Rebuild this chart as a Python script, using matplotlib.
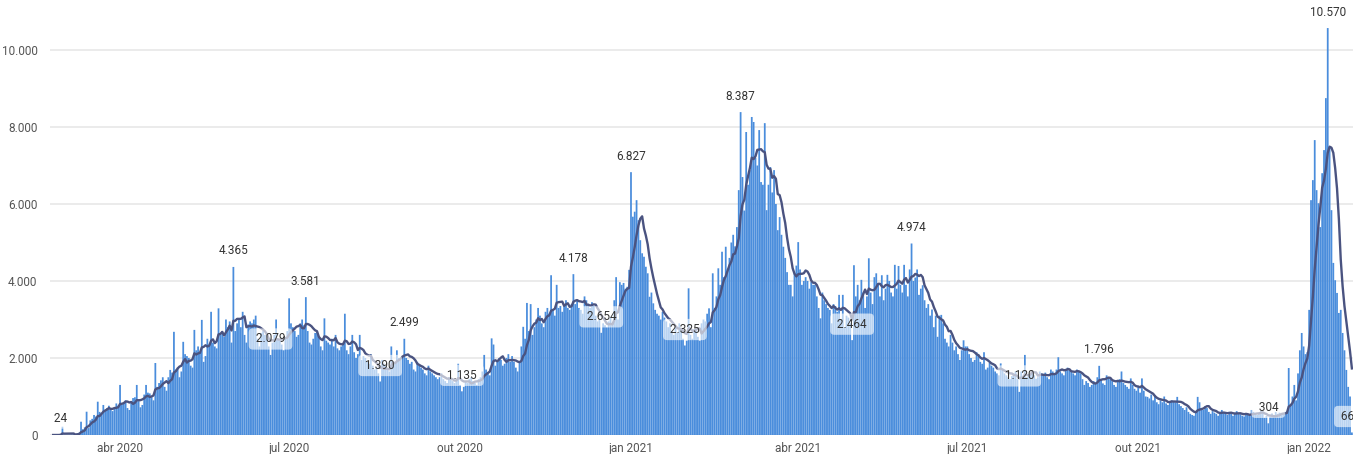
import matplotlib
matplotlib.use("Agg")
import matplotlib.pyplot as plt
import pandas as pd

plt.rcParams["font.family"] = ["Roboto", "DejaVu Sans"]

# ---------- valores diários, por mês ----------
fev20 = [0, 0, 1, 0, 24]
mar20 = [215, 2, 5, 8, 10, 14, 18, 25, 40, 60, 345, 150, 200, 605, 180, 380,
         420, 520, 480, 865, 600, 560, 780, 650, 700, 760, 690, 620, 700, 820, 760]
abr20 = [1300, 780, 820, 900, 700, 650, 850, 960, 980, 1300, 880, 720, 780, 1050,
         1300, 1100, 1080, 980, 900, 1870, 1250, 1350, 1420, 1500, 1250, 1150,
         1500, 1690, 1620, 2680]
mai20 = [1700, 1750, 1500, 1650, 2420, 2100, 2050, 2000, 1800, 1750, 2730, 2200,
         2300, 2150, 2990, 1900, 2050, 2500, 2350, 3200, 2400, 2300, 2250, 3290,
         2600, 2700, 2550, 3000, 2800, 2950, 2400]
jun20 = [4365, 2700, 2900, 3000, 2800, 3200, 2600, 2400, 2870, 2950, 2900, 3000,
         3100, 2500, 2300, 2650, 2700, 2600, 2500, 2300, 2079, 2400, 2600, 3000,
         2500, 2450, 2350, 2200, 2500, 2700]
jul20 = [3550, 2900, 2800, 2700, 2550, 2600, 2900, 3000, 2850, 3581, 2700, 2400,
         2350, 2500, 2650, 2700, 2550, 2300, 2200, 3030, 2450, 2400, 2350, 2500,
         2300, 2600, 2250, 2200, 2300, 2350, 3150]
ago20 = [2200, 2100, 2300, 2600, 2150, 2000, 2100, 2600, 1950, 2050, 2000, 1900,
         1850, 2100, 1800, 1700, 1750, 1600, 1390, 1950, 1850, 1800, 1700, 1650,
         2300, 1900, 1850, 2200, 2000, 1950, 2050]
set20 = [2499, 2000, 1950, 1850, 1900, 1700, 1650, 1900, 1800, 1750, 1700, 1600,
         1550, 1800, 1650, 1600, 1550, 1500, 1450, 1500, 1600, 1450, 1400, 1350,
         1500, 1450, 1400, 1350, 1450, 1850]
out20 = [1300, 1135, 1250, 1400, 1350, 1450, 1500, 1400, 1350, 1300, 1450, 1500,
         1650, 2080, 1700, 1600, 1550, 2510, 2350, 1800, 1900, 2000, 1950, 1800,
         1850, 2000, 2100, 1900, 2050, 1900, 1750]
nov20 = [1650, 1900, 2300, 2810, 2500, 3430, 2700, 3400, 2600, 2800, 3000, 3300,
         3100, 2900, 2800, 3200, 3300, 3150, 4150, 3250, 3100, 3900, 3300, 3350,
         3200, 3400, 3500, 3300, 3250, 3400]
dez20 = [4178, 3400, 3500, 3300, 3250, 3150, 3600, 3500, 3400, 3300, 3450, 3350,
         3100, 2950, 3000, 2654, 2900, 2850, 2800, 2950, 3050, 2900, 3500, 4100,
         3000, 3970, 3900, 3950, 3800, 3850, 4290]
jan21 = [6827, 5670, 5800, 6100, 5580, 5060, 4720, 4630, 4370, 4200, 3590, 3700,
         3420, 3250, 3150, 3100, 3000, 3200, 3050, 2950, 2800, 2900, 2700, 2600,
         2800, 2650, 2900, 2750, 2500, 2325, 2450]
fev21 = [3810, 2600, 2500, 2750, 2700, 2550, 2450, 2900, 3000, 2950, 3150, 3290,
         2800, 4200, 3300, 3600, 4330, 3900, 4760, 4100, 4890, 4300, 4600, 5000,
         5200, 4900, 5400, 6360]
mar21 = [8387, 6700, 5830, 7870, 6500, 6880, 8260, 8130, 7200, 7000, 7920, 6570,
         6500, 8100, 5840, 6500, 6960, 6300, 6880, 6000, 5320, 5660, 5200, 4890,
         4600, 4230, 3900, 3900, 3600, 4200, 4400]
abr21 = [5010, 4300, 3900, 4000, 4100, 4000, 3800, 3980, 3900, 3900, 3600, 3300,
         3030, 3700, 3500, 3400, 3300, 3250, 2900, 3400, 3350, 3200, 3640, 3000,
         3640, 2800, 3100, 3050, 2900, 2464]
mai21 = [4410, 3600, 3900, 3500, 4030, 3700, 3300, 3600, 4590, 3700, 3400, 4100,
         4200, 3900, 3600, 4150, 3500, 3800, 4160, 4000, 3700, 3600, 4420, 3800,
         4390, 3900, 3700, 4420, 3900, 3600, 4300]
jun21 = [4974, 4000, 4090, 4300, 3640, 3800, 3890, 3500, 3300, 3400, 3100, 3260,
         2800, 3100, 2550, 3100, 3120, 2900, 2500, 2400, 2300, 2600, 2400, 2200,
         2300, 2100, 1950, 2200, 2460, 2300]
jul21 = [2300, 2100, 2000, 1900, 1950, 2150, 2100, 1900, 1850, 2150, 1700, 1750,
         1870, 1800, 1750, 1650, 1600, 1550, 1860, 1700, 1600, 1550, 1500, 1450,
         1530, 1600, 1650, 1450, 1120, 1650, 1500]
ago21 = [2080, 1500, 1550, 1600, 1630, 1550, 1460, 1500, 1650, 1600, 1550, 1620,
         1500, 1450, 1700, 1650, 1600, 1700, 2020, 1650, 1600, 1550, 1700, 1750,
         1680, 1650, 1600, 1550, 1700, 1650, 1600]
set21 = [1450, 1300, 1400, 1350, 1250, 1300, 1400, 1350, 1500, 1796, 1450, 1340,
         1300, 1550, 1500, 1450, 1400, 1300, 1250, 1400, 1450, 1650, 1350, 1300,
         1250, 1200, 1470, 1300, 1200, 1150]
out21 = [1250, 1100, 1470, 1150, 1000, 990, 950, 1050, 900, 1040, 850, 800, 900,
         850, 1000, 820, 780, 850, 900, 880, 850, 990, 800, 750, 700, 650, 720,
         600, 550, 520, 500]
nov21 = [600, 990, 850, 700, 650, 750, 700, 600, 550, 620, 580, 550, 500, 600,
         650, 580, 560, 520, 600, 550, 500, 580, 620, 560, 540, 500, 480, 560,
         520, 500]
dez21 = [650, 600, 560, 520, 580, 620, 600, 450, 500, 304, 480, 560, 520, 600,
         550, 580, 520, 560, 600, 600, 1740, 800, 1000, 1300, 900, 1600, 2200,
         2650, 2300, 2100, 2150]
jan22 = [3250, 6100, 6620, 7660, 6360, 6020, 5400, 6800, 7400, 8750, 10570, 7480,
         5840, 4470, 4020, 3690, 3170, 3250, 2650, 2200, 1690, 1250, 1000, 66]

months = [
    ("2020-02-25", fev20), ("2020-03-01", mar20), ("2020-04-01", abr20),
    ("2020-05-01", mai20), ("2020-06-01", jun20), ("2020-07-01", jul20),
    ("2020-08-01", ago20), ("2020-09-01", set20), ("2020-10-01", out20),
    ("2020-11-01", nov20), ("2020-12-01", dez20), ("2021-01-01", jan21),
    ("2021-02-01", fev21), ("2021-03-01", mar21), ("2021-04-01", abr21),
    ("2021-05-01", mai21), ("2021-06-01", jun21), ("2021-07-01", jul21),
    ("2021-08-01", ago21), ("2021-09-01", set21), ("2021-10-01", out21),
    ("2021-11-01", nov21), ("2021-12-01", dez21), ("2022-01-01", jan22),
]

# rótulos: picos (sem caixa) e vales (com caixa)
peak_dates = ["2020-06-01", "2020-07-10", "2020-09-01", "2020-12-01",
              "2021-01-01", "2021-03-01", "2021-06-01", "2021-09-10",
              "2022-01-11"]
low_dates = ["2020-02-29", "2020-06-21", "2020-08-19", "2020-10-02",
             "2020-12-16", "2021-01-30", "2021-04-30", "2021-07-29",
             "2021-12-10", "2022-01-24"]

y_ticks = [0, 2000, 4000, 6000, 8000, 10000]
y_labels = ["0", "2.000", "4.000", "6.000", "8.000", "10.000"]
x_tick_dates = ["2020-04-01", "2020-07-01", "2020-10-01", "2021-01-01",
                "2021-04-01", "2021-07-01", "2021-10-01", "2022-01-01"]
x_tick_labels = ["abr 2020", "jul 2020", "out 2020", "jan 2021",
                 "abr 2021", "jul 2021", "out 2021", "jan 2022"]


def fmt(v):
    return f"{int(v):,}".replace(",", ".")


parts = []
for start, vals in months:
    idx = pd.date_range(start, periods=len(vals), freq="D")
    parts.append(pd.Series(vals, index=idx, dtype=float))
daily = pd.concat(parts)
media = daily.rolling(7, min_periods=1).mean()

W, H = 1353, 454
fig = plt.figure(figsize=(W / 100, H / 100), dpi=100)
ax = fig.add_axes([50 / W, 19 / H, 1303 / W, 423.5 / H])

bars = ax.bar(daily.index, daily.values, width=0.95, color="#4a8ddc",
              linewidth=0, zorder=2)
for b in bars:
    b.set_snap(False)
ax.plot(media.index, media.values, color="#4a5380", lw=1.7, zorder=3)

for d in peak_dates:
    t = pd.Timestamp(d)
    v = daily[t]
    ax.annotate(fmt(v), (t, v), xytext=(0, 11.5), textcoords="offset points",
                ha="center", va="center", fontsize=8.5, color="#333333",
                zorder=6, annotation_clip=False)

for d in low_dates:
    t = pd.Timestamp(d)
    v = daily[t]
    # o último rótulo fica colado à borda direita, como no original
    dx = -3 if d == low_dates[-1] else 0
    ax.annotate(" " + fmt(v) + " ", (t, v), xytext=(dx, 11.5),
                textcoords="offset points", ha="center", va="center",
                fontsize=8.5, color="#333333", zorder=6, annotation_clip=False,
                bbox=dict(boxstyle="round,pad=0.35", fc="white", ec="none",
                          alpha=0.62))

ax.set_xlim(pd.Timestamp("2020-02-23 07:12"), pd.Timestamp("2022-01-24 14:24"))
ax.set_ylim(0, 11000)
ax.set_yticks(y_ticks)
ax.set_yticklabels(y_labels)
ax.set_xticks(pd.to_datetime(x_tick_dates))
ax.set_xticklabels(x_tick_labels)
ax.tick_params(axis="both", length=0, labelsize=8.5, labelcolor="#555555")
ax.tick_params(axis="y", pad=9)
ax.tick_params(axis="x", pad=5)
ax.yaxis.grid(True, color="#e8e8e8", lw=1.2)
ax.set_axisbelow(True)
for s in ax.spines.values():
    s.set_visible(False)

fig.savefig("out.png", dpi=100)
